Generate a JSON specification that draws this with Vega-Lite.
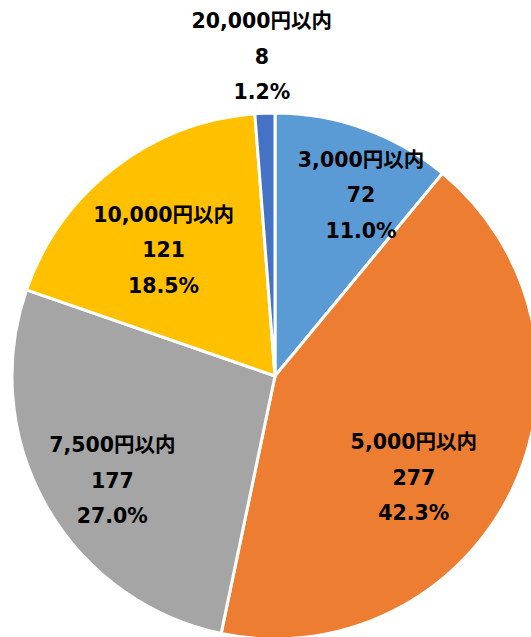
{
  "$schema": "https://vega.github.io/schema/vega-lite/v6.json",
  "width": 550,
  "height": 752,
  "autosize": {"type": "none"},
  "padding": 0,
  "background": "white",
  "view": {"stroke": null},
  "data": {
    "values": [
      {"n": 1, "category": "3,000円以内", "count": 72, "pct": "11.0%"},
      {"n": 2, "category": "5,000円以内", "count": 277, "pct": "42.3%"},
      {"n": 3, "category": "7,500円以内", "count": 177, "pct": "27.0%"},
      {"n": 4, "category": "10,000円以内", "count": 121, "pct": "18.5%"},
      {"n": 5, "category": "20,000円以内", "count": 8, "pct": "1.2%"}
    ]
  },
  "transform": [
    {"stack": "count", "groupby": [], "sort": [{"field": "n", "order": "ascending"}], "as": ["s0", "s1"]},
    {"calculate": "(datum.s0 + datum.s1) / 2", "as": "mid"},
    {"calculate": "datum.category + '\\n' + datum.count + '\\n' + datum.pct", "as": "label"}
  ],
  "layer": [
    {
      "mark": {"type": "arc", "outerRadius": 263, "stroke": "white", "strokeWidth": 3},
      "encoding": {
        "theta": {"field": "s0", "type": "quantitative", "scale": {"domain": [0, 655]}},
        "theta2": {"field": "s1"},
        "color": {
          "field": "category",
          "type": "nominal",
          "sort": null,
          "scale": {
            "domain": ["3,000円以内", "5,000円以内", "7,500円以内", "10,000円以内", "20,000円以内"],
            "range": ["#5B9BD5", "#ED7D31", "#A5A5A5", "#FFC000", "#4472C4"]
          },
          "legend": null
        }
      }
    },
    {
      "transform": [{"filter": "datum.n == 1"}],
      "mark": {"type": "text", "radius": 198, "dx": 19, "dy": -29, "lineBreak": "\n", "lineHeight": 35.5, "font": "DejaVu Sans, Noto Sans CJK JP", "fontSize": 20.5, "fontWeight": "bold", "color": "#000000", "align": "center", "baseline": "middle"},
      "encoding": {"theta": {"field": "mid", "type": "quantitative"}, "text": {"field": "label"}}
    },
    {
      "transform": [{"filter": "datum.n == 2"}],
      "mark": {"type": "text", "radius": 174, "dx": -18, "dy": -8, "lineBreak": "\n", "lineHeight": 35.5, "font": "DejaVu Sans, Noto Sans CJK JP", "fontSize": 20.5, "fontWeight": "bold", "color": "#000000", "align": "center", "baseline": "middle"},
      "encoding": {"theta": {"field": "mid", "type": "quantitative"}, "text": {"field": "label"}}
    },
    {
      "transform": [{"filter": "datum.n == 3"}],
      "mark": {"type": "text", "radius": 195, "dx": 7, "dy": -26, "lineBreak": "\n", "lineHeight": 35.5, "font": "DejaVu Sans, Noto Sans CJK JP", "fontSize": 20.5, "fontWeight": "bold", "color": "#000000", "align": "center", "baseline": "middle"},
      "encoding": {"theta": {"field": "mid", "type": "quantitative"}, "text": {"field": "label"}}
    },
    {
      "transform": [{"filter": "datum.n == 4"}],
      "mark": {"type": "text", "radius": 166, "dx": -10, "dy": -29, "lineBreak": "\n", "lineHeight": 35.5, "font": "DejaVu Sans, Noto Sans CJK JP", "fontSize": 20.5, "fontWeight": "bold", "color": "#000000", "align": "center", "baseline": "middle"},
      "encoding": {"theta": {"field": "mid", "type": "quantitative"}, "text": {"field": "label"}}
    },
    {
      "transform": [{"filter": "datum.n == 5"}],
      "mark": {"type": "text", "radius": 318, "dx": -1, "dy": -36, "lineBreak": "\n", "lineHeight": 35.5, "font": "DejaVu Sans, Noto Sans CJK JP", "fontSize": 20.5, "fontWeight": "bold", "color": "#000000", "align": "center", "baseline": "middle"},
      "encoding": {"theta": {"field": "mid", "type": "quantitative"}, "text": {"field": "label"}}
    }
  ]
}
